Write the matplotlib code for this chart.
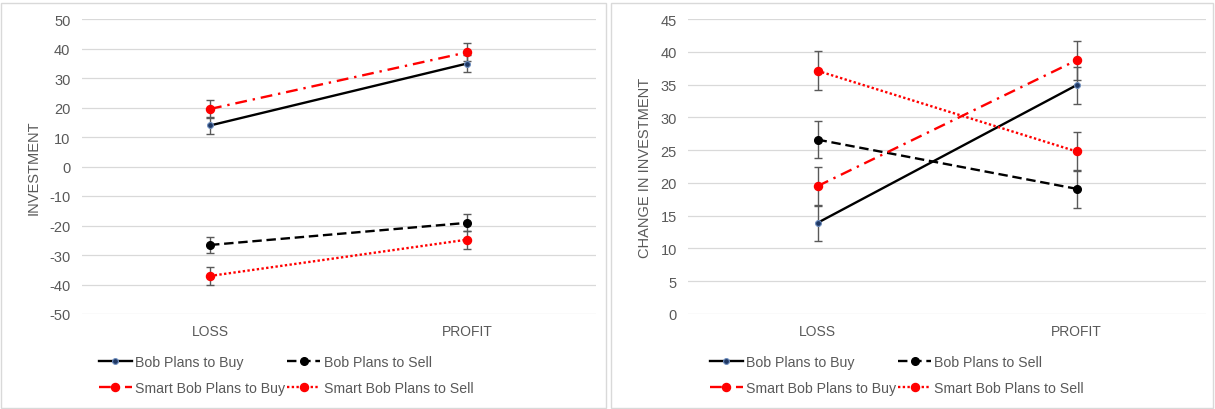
import numpy as np
import matplotlib
matplotlib.use("Agg")
import matplotlib.pyplot as plt
from matplotlib.patches import Rectangle

plt.rcParams['font.family'] = ['Liberation Sans', 'DejaVu Sans']
plt.rcParams['axes.unicode_minus'] = False

# data
categories = ["LOSS", "PROFIT"]
series_names = ["Bob Plans to Buy", "Bob Plans to Sell",
                "Smart Bob Plans to Buy", "Smart Bob Plans to Sell"]

# left panel: investment (sell plans negative)
inv_bob_buy = [13.9, 34.9]
inv_bob_sell = [-26.6, -19.1]
inv_smart_buy = [19.5, 38.7]
inv_smart_sell = [-37.1, -24.8]

# right panel: change in investment
chg_bob_buy = [13.9, 34.9]
chg_bob_sell = [26.6, 19.1]
chg_smart_buy = [19.5, 38.7]
chg_smart_sell = [37.1, 24.8]

# error bar half widths
err_bob_buy = [2.8, 2.8]
err_bob_sell = [2.85, 2.9]
err_smart_buy = [3.0, 3.0]
err_smart_sell = [3.0, 3.0]

left_ticks = list(range(-50, 51, 10))
right_ticks = list(range(0, 46, 5))

grey = "#595959"
styles = [
    dict(color="black", ls="-", marker="o", ms=4.2, mfc="#1f3864", mec="#6f8fbf", mew=0.8),
    dict(color="black", ls=(0, (4, 2)), marker="o", ms=5.5, mfc="black", mec="black"),
    dict(color="#ff0000", ls=(0, (5, 2.5, 1, 2.5)), marker="o", ms=5.8, mfc="#ff0000", mec="#ff0000"),
    dict(color="#ff0000", ls=(0, (1, 1)), marker="o", ms=5.8, mfc="#ff0000", mec="#ff0000"),
]

W, H = 1215, 410
fig = plt.figure(figsize=(W / 100, H / 100), dpi=100)

# panel borders
for x0, x1 in [(1, 606), (611, 1213)]:
    fig.patches.append(Rectangle((x0 / W, 1 / H), (x1 - x0) / W, (H - 5) / H,
                                 transform=fig.transFigure, fill=False,
                                 ec="#d9d9d9", lw=1))


def draw_panel(rect, values, errs, ticks, ylabel, legend_xy):
    ax = fig.add_axes(rect)
    x = np.arange(len(categories))
    handles = []
    for vals, err, st, name in zip(values, errs, styles, series_names):
        ax.errorbar(x, vals, yerr=err, fmt="none", ecolor=grey, elinewidth=1,
                    capsize=3, capthick=1, zorder=2)
        h, = ax.plot(x, vals, lw=1.7, label=name, zorder=3, **st)
        handles.append(h)
    ax.set_xlim(-0.5, 1.5)
    ax.set_ylim(ticks[0], ticks[-1])
    ax.set_yticks(ticks)
    ax.set_xticks(x)
    ax.set_xticklabels(categories)
    ax.tick_params(length=0, colors=grey, labelsize=10.5)
    ax.tick_params(axis="y", pad=8)
    ax.tick_params(axis="x", pad=7)
    for lab in ax.get_xticklabels():
        lab.set_fontsize(10)
    ax.grid(axis="y", color="#d9d9d9", lw=0.9)
    ax.set_axisbelow(True)
    for s in ax.spines.values():
        s.set_visible(False)
    ax.set_ylabel(ylabel, color=grey, fontsize=10.5, labelpad=6)
    # row-wise order like the reference legend
    order = [0, 2, 1, 3]
    fig.legend(handles=[handles[i] for i in order], loc="upper left",
               bbox_to_anchor=(legend_xy[0] / W, 1 - legend_xy[1] / H),
               ncol=2, frameon=False, fontsize=10.2, labelcolor=grey,
               handlelength=2.3, handletextpad=0.25, columnspacing=0.15,
               labelspacing=0.85, borderaxespad=0, borderpad=0)
    return ax


draw_panel([81.5 / W, 1 - 315 / H, 514 / W, 295 / H],
           [inv_bob_buy, inv_bob_sell, inv_smart_buy, inv_smart_sell],
           [err_bob_buy, err_bob_sell, err_smart_buy, err_smart_sell],
           left_ticks, "INVESTMENT", (99, 356))

draw_panel([688 / W, 1 - 315 / H, 518 / W, 295 / H],
           [chg_bob_buy, chg_bob_sell, chg_smart_buy, chg_smart_sell],
           [err_bob_buy, err_bob_sell, err_smart_buy, err_smart_sell],
           right_ticks, "CHANGE IN INVESTMENT", (710, 356))

fig.savefig("out.png", dpi=100)
